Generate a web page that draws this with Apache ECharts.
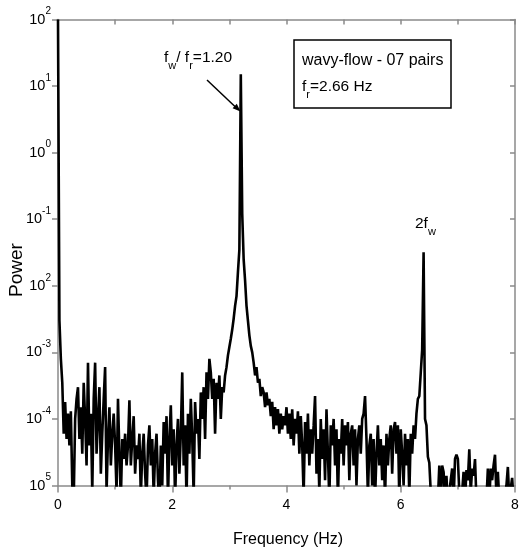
<!DOCTYPE html>
<html><head><meta charset="utf-8">
<script src="https://cdn.jsdelivr.net/npm/echarts@6/dist/echarts.min.js"></script>
<style>html,body{margin:0;padding:0;background:#fff}#c{width:520px;height:552px}</style>
</head><body><div id="c"></div>
<script>
// ---- data (power spectrum, sampled every 0.025 Hz) ----
const freqStep = 0.025;
const segStarts = [0, 1, 2, 3, 4, 5, 6, 7];
const power0 = [1e2, 3e-3, 8e-4, 3.5e-4, 6e-5, 1.8e-4, 5e-5, 1.2e-4, 4e-5, 1.3e-4,
  1e-5, 6e-6, 1e-4, 2e-4, 3e-4, 5e-5, 1.5e-4, 3e-5, 3.5e-4, 1e-4,
  2e-5, 7e-4, 4e-5, 1.2e-4, 8e-6, 2e-4, 7e-4, 3e-5, 1e-4, 3e-4,
  1.5e-5, 6e-5, 2e-4, 6e-4, 8e-6, 5e-5, 1.5e-4, 2e-5, 6e-5, 1.2e-4];
const power1 = [4e-5, 8e-6, 2e-4, 3e-5, 6e-6, 5e-5, 2.5e-5, 6e-5, 2e-5, 4e-5,
  1.9e-4, 2e-5, 5e-5, 1.1e-4, 1.5e-5, 4e-5, 2.5e-5, 6e-5, 7e-6, 3e-5,
  6e-5, 1.5e-5, 6e-6, 4e-5, 8e-5, 2e-5, 5e-5, 7e-6, 3e-5, 6e-5,
  1.2e-5, 5e-6, 4e-5, 1e-5, 9e-5, 3e-5, 1.1e-4, 6e-6, 5e-5, 1.6e-4];
const power2 = [2e-5, 7e-5, 6e-6, 4e-5, 1e-4, 1.5e-5, 6e-5, 5e-4, 2e-5, 8e-5,
  6e-6, 1.2e-4, 3e-5, 2e-4, 5e-5, 7e-6, 1.8e-4, 6e-5, 1e-4, 2.5e-5,
  2.5e-4, 1e-4, 3e-4, 5e-5, 5e-4, 2e-4, 8e-4, 5e-4, 2e-4, 4e-4,
  6e-5, 3.5e-4, 2e-4, 4.5e-4, 1e-4, 3e-4, 2.5e-4, 4.5e-4, 6e-4, 9e-4];
const power3 = [1.2e-3, 1.6e-3, 2.2e-3, 3.2e-3, 5e-3, 7e-3, 1.6e-2, 3.5e-2, 15, 1.2e-1,
  2.5e-2, 1.2e-2, 5e-3, 3e-3, 1.8e-3, 1.25e-3, 1e-3, 7e-4, 4.5e-4, 6e-4,
  3.5e-4, 4e-4, 2.2e-4, 3e-4, 2.5e-4, 1.5e-4, 2.5e-4, 1.6e-4, 2e-4, 1.1e-4,
  1.8e-4, 7e-5, 1.5e-4, 8e-5, 1.4e-4, 6e-5, 1.2e-4, 7e-5, 1.1e-4, 8e-5];
const power4 = [1.5e-4, 6e-5, 1.2e-4, 5e-5, 1.4e-4, 4e-5, 1e-4, 6e-5, 1.3e-4, 3e-5,
  1.1e-4, 4e-5, 7e-6, 9e-5, 3e-5, 1.2e-4, 2e-5, 7e-5, 3e-5, 8e-5,
  2.2e-4, 1.5e-5, 5e-5, 8e-6, 1e-4, 2.5e-5, 7e-5, 1.2e-5, 1.4e-4, 3e-5,
  6e-6, 8e-5, 4e-5, 1e-4, 2e-5, 7e-5, 6e-6, 5e-5, 3e-5, 1e-4];
const power5 = [2e-5, 8e-5, 4e-5, 9e-5, 1.2e-5, 6e-5, 8e-5, 2e-5, 7e-5, 1e-5,
  5e-5, 8e-5, 3e-5, 1e-4, 1.2e-4, 2.2e-4, 5e-5, 7e-6, 4e-5, 6e-5,
  1e-5, 5e-5, 6e-6, 3e-5, 8e-5, 2e-5, 5e-5, 1.2e-5, 4e-5, 6e-6,
  6e-5, 2e-5, 5e-5, 8e-5, 1.5e-5, 7e-5, 9e-5, 3e-5, 8e-5, 6e-6];
const power6 = [7e-5, 3e-5, 1e-5, 6e-5, 2e-5, 5e-5, 7e-6, 6e-5, 3e-5, 8e-5,
  5e-5, 1.2e-4, 2e-4, 2.2e-4, 4.9e-4, 1.1e-3, 3.2e-2, 1e-4, 8e-5, 2.7e-5,
  2.2e-5, 8e-6, 5e-6, 8e-6, 5e-6, 9e-6, 6e-6, 2e-5, 5e-6, 2e-5,
  1.6e-5, 6e-6, 1.4e-5, 5e-6, 8e-6, 1.2e-5, 1.8e-5, 6e-6, 2.5e-5, 2.9e-5];
const power7 = [2.5e-5, 8e-6, 5e-6, 8e-6, 1.6e-5, 6e-6, 1.7e-5, 1.2e-5, 3.5e-5, 8e-6,
  1.8e-5, 1.4e-5, 2.5e-5, 6e-6, 5e-6, 8e-6, 5e-6, 7e-6, 5e-6, 9e-6,
  6e-6, 1.8e-5, 6e-6, 1.8e-5, 1.2e-5, 2e-5, 2.9e-5, 7e-6, 1.6e-5, 6e-6,
  5e-6, 8e-6, 5e-6, 7e-6, 1e-5, 1.9e-5, 6e-6, 9e-6, 1.3e-5, 6e-6, 7e-6];

const xTickValues = [0, 2, 4, 6, 8];
const xTickLabels = ['0', '2', '4', '6', '8'];
const yTickExps = [-5, -4, -3, -2, -1, 0, 1, 2];
const yTickSups = ['5', '-4', '-3', '2', '-1', '0', '1', '2'];

// ---- build series ----
const segments = [power0, power1, power2, power3, power4, power5, power6, power7];
const seriesData = [];
segments.forEach((seg, s) => {
  seg.forEach((p, i) => {
    seriesData.push([+(segStarts[s] + i * freqStep).toFixed(3), p]);
  });
});

const FONT = "'Liberation Sans', Arial, Helvetica, sans-serif";
const GRAY = '#8a8a8a';

const chart = echarts.init(document.getElementById('c'), null, {renderer: 'canvas'});
const subRich = {s: {fontSize: 11, lineHeight: 27, fontFamily: FONT, fill: '#000', verticalAlign: 'bottom'}};
const option = {
  animation: false,
  backgroundColor: '#fff',
  grid: {left: 58, top: 19.5, width: 457, height: 466, containLabel: false, outerBoundsMode: 'none'},
  xAxis: [
    {
      type: 'value', position: 'bottom', min: 0, max: 8, interval: 2,
      axisLine: {show: true, onZero: false, lineStyle: {color: GRAY, width: 1.5}},
      axisTick: {show: true, inside: false, length: 7, lineStyle: {color: GRAY, width: 1.5}},
      minorTick: {show: true, splitNumber: 2, length: 4, lineStyle: {color: GRAY, width: 1.5}},
      axisLabel: {
        margin: 13, color: '#000', fontSize: 14, fontFamily: FONT,
        formatter: v => { const k = xTickValues.indexOf(Math.round(v)); return k >= 0 ? xTickLabels[k] : ''; }
      },
      splitLine: {show: false}, minorSplitLine: {show: false}
    },
    {
      type: 'value', position: 'top', min: 0, max: 8, interval: 1,
      axisLine: {show: true, onZero: false, lineStyle: {color: GRAY, width: 1.5}},
      axisTick: {show: true, inside: true, length: 5, lineStyle: {color: GRAY, width: 1.5}},
      axisLabel: {show: false}, splitLine: {show: false}
    }
  ],
  yAxis: [
    {
      type: 'log', logBase: 10, min: 1e-5, max: 100, position: 'left',
      axisLine: {show: true, onZero: false, lineStyle: {color: GRAY, width: 1.5}},
      axisTick: {show: true, inside: false, length: 6, lineStyle: {color: GRAY, width: 1.5}},
      axisLabel: {
        margin: 7, color: '#000', fontFamily: FONT,
        formatter: v => {
          const e = Math.round(Math.log10(v));
          const k = yTickExps.indexOf(e);
          return k >= 0 ? '{b|10}{s|' + yTickSups[k] + '}' : '';
        },
        rich: {
          b: {fontSize: 14.5, lineHeight: 26, fontFamily: FONT, color: '#000'},
          s: {fontSize: 10, lineHeight: 26, fontFamily: FONT, color: '#000', verticalAlign: 'top'}
        }
      },
      splitLine: {show: false}
    },
    {
      type: 'log', logBase: 10, min: 1e-5, max: 100, position: 'right',
      axisLine: {show: true, onZero: false, lineStyle: {color: GRAY, width: 1.5}},
      axisTick: {show: true, inside: true, length: 5, lineStyle: {color: GRAY, width: 1.5}},
      axisLabel: {show: false}, splitLine: {show: false}
    }
  ],
  series: [{
    type: 'line', xAxisIndex: 0, yAxisIndex: 0, data: seriesData,
    showSymbol: false, symbol: 'none', clip: true, silent: true,
    lineStyle: {color: '#000', width: 2.6}
  }],
  graphic: [
    {type: 'text', x: 16.5, y: 270, rotation: Math.PI / 2,
      style: {text: 'Power', fontSize: 19, fontFamily: FONT, fill: '#000', align: 'center', verticalAlign: 'middle'}},
    {type: 'text', x: 288, y: 540,
      style: {text: 'Frequency (Hz)', fontSize: 16, fontFamily: FONT, fill: '#000', align: 'center', verticalAlign: 'middle'}},
    {type: 'rect', shape: {x: 294, y: 40, width: 157, height: 68},
      style: {fill: '#fff', stroke: '#000', lineWidth: 1.5}},
    {type: 'text', x: 302, y: 61,
      style: {text: 'wavy-flow - 07 pairs', fontSize: 16, fontFamily: FONT, fill: '#000', align: 'left', verticalAlign: 'middle'}},
    {type: 'text', x: 302, y: 86.5,
      style: {text: 'f{s|r}=2.66 Hz', fontSize: 15.5, fontFamily: FONT, fill: '#000', lineHeight: 27, align: 'left', verticalAlign: 'middle', rich: subRich}},
    {type: 'text', x: 164, y: 57.5,
      style: {text: 'f{s|w}/ f{s|r}=1.20', fontSize: 15.5, fontFamily: FONT, fill: '#000', lineHeight: 27, align: 'left', verticalAlign: 'middle', rich: subRich}},
    {type: 'text', x: 415, y: 224,
      style: {text: '2f{s|w}', fontSize: 15.5, fontFamily: FONT, fill: '#000', lineHeight: 27, align: 'left', verticalAlign: 'middle', rich: subRich}},
    {type: 'line', shape: {x1: 207, y1: 80, x2: 236, y2: 107.5}, style: {stroke: '#000', lineWidth: 1.5}},
    {type: 'polygon', shape: {points: [[240.5, 111.5], [232.6, 108.2], [236.8, 103.8]]}, style: {fill: '#000'}}
  ]
};
chart.setOption(option);
</script>
</body></html>
